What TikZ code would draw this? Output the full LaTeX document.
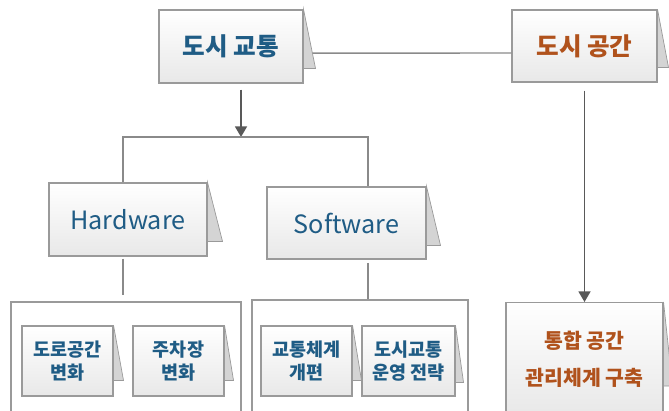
\documentclass[tikz,border=0pt]{standalone}
\usepackage{fontspec}
\setmainfont{Noto Sans CJK KR}
\usetikzlibrary{arrows.meta,calc}
\definecolor{txtblue}{HTML}{1F5C85}
\definecolor{txtorange}{HTML}{B0521C}
\definecolor{boxline}{HTML}{9A9A9A}
\definecolor{linkgray}{HTML}{8A8A8A}
\definecolor{flapgray}{HTML}{D4D4D4}
\tikzset{
  card/.style={draw=boxline, line width=0.9pt, top color=white, bottom color=black!9, inner sep=0pt, align=center},
  bigcard/.style={card, font=\fontsize{21}{24}\selectfont\bfseries, text=txtblue},
  smallcard/.style={card, font=\fontsize{15.8}{19.6}\selectfont\bfseries, text=txtblue, minimum width=2.73cm, minimum height=2.1cm},
  flap/.style={draw=boxline, line width=0.6pt, fill=flapgray},
  frame/.style={draw=boxline, line width=0.9pt},
  link/.style={draw=linkgray, line width=1.2pt},
  arr/.style={draw=black!65, line width=1.5pt, -{Triangle[width=0.36cm,length=0.32cm]}}
}

\begin{document}
\begin{tikzpicture}[x=0.03cm, y=-0.03cm]
\useasboundingbox (0,0) rectangle (669,410);
% top row
\node[bigcard, minimum width=4.32cm, minimum height=2.19cm] (traffic) at (231,46.5) {도시 교통};
\node[bigcard, text=txtorange, minimum width=4.35cm, minimum height=2.16cm] (space) at (584.5,46) {도시 공간};
% hardware / software
\node[bigcard, font=\fontsize{21.5}{24}\selectfont, minimum width=4.74cm, minimum height=2.19cm] (hw) at (128,219.5) {Hardware};
\node[bigcard, font=\fontsize{21.5}{24}\selectfont, minimum width=4.77cm, minimum height=2.16cm] (sw) at (346.5,223) {Software};
% group frames
\node[frame, minimum width=6.9cm, minimum height=3.54cm] (frameL) at (126,361) {};
\node[frame, minimum width=6.48cm, minimum height=3.6cm] (frameM) at (360,360) {};
% bottom cards
\node[smallcard] (road) at (67.5,361) {도로공간\\변화};
\node[smallcard] (park) at (178.5,361) {주차장\\변화};
\node[smallcard] (system) at (306.5,361) {교통체계\\개편};
\node[smallcard, minimum width=2.79cm] (ops) at (408.5,361) {도시교통\\운영 전략};
\node[card, font=\fontsize{17.5}{32}\selectfont\bfseries, text=txtorange, minimum width=4.71cm, minimum height=3.39cm, anchor=north] (integ) at (584.5,302) {통합 공간\\관리체계 구축};

% connectors
\coordinate (split) at (241,137);
\coordinate (hwdrop) at ([xshift=-0.15cm]hw.south);
\coordinate (swdrop) at ([xshift=0.645cm]sw.south);
\draw[link] ([yshift=-0.2cm]traffic.east) -- ([yshift=-0.21cm]space.west);
\draw[arr, shorten <=0.18cm] (traffic.south -| split) -- (split);
\draw[link] ([xshift=-0.15cm]hw.north) |- (split) -| ([xshift=0.645cm]sw.north);
\draw[link, shorten <=0.06cm, shorten >=0.2cm] (hwdrop) -- (hwdrop |- frameL.north);
\draw[link, shorten <=0.1cm] (swdrop) -- (swdrop |- frameM.north);
\draw[arr, shorten <=0.24cm] (space.south -| integ.north) -- (integ.north);

% folded flaps
\foreach \n/\w/\h in {traffic/12/15, space/11/15, hw/15/15, sw/14/14, road/10/16, park/9/16, system/9/16, ops/8/14, integ/9/30}
  \filldraw[flap] (\n.north east) -- ($(\n.south east)+(\w,-\h)$) -- ($(\n.south east)+(0,-\h)$) -- cycle;
\end{tikzpicture}
\end{document}
